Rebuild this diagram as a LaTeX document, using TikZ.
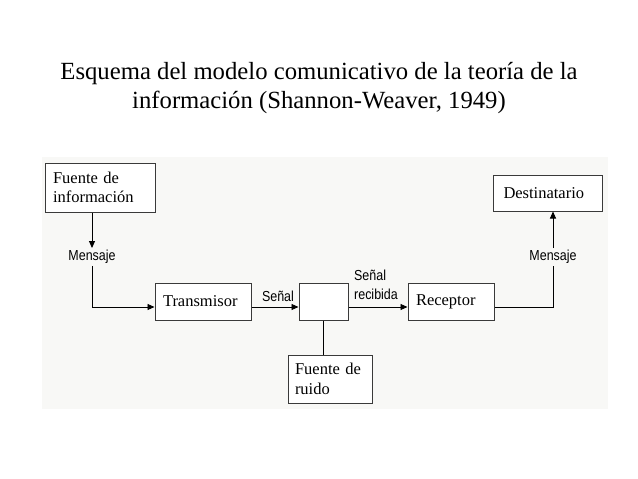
\documentclass[tikz,border=0pt]{standalone}
\usepackage{fontspec}
\setmainfont{Liberation Serif}
\newfontfamily\etiqfont[FakeStretch=0.86]{Liberation Sans}
\usepackage{xcolor}
\usepackage{tikz}
\usetikzlibrary{arrows.meta,positioning,calc}
\definecolor{panel}{HTML}{F8F8F6}
\definecolor{borde}{HTML}{3A3A3A}

\tikzset{
    caja/.style={draw=borde, line width=1pt, fill=white, inner sep=0pt, align=left, font=\fontsize{16.5}{19.5}\selectfont},
    etiq/.style={inner sep=2pt, align=left, font=\etiqfont\fontsize{14.5}{19}\selectfont},
    flecha/.style={draw=black, line width=0.9pt, -{Triangle[length=7pt,width=6pt]}},
    linea/.style={draw=black, line width=0.9pt}
}

\begin{document}
\begin{tikzpicture}[x=1pt,y=-1pt]
\useasboundingbox (0,0) rectangle (638,479);
\fill[panel] (42,157) rectangle (608,409);

% titulo
\node[align=center, font=\fontsize{24.7}{29}\selectfont] (titulo) at (319,88)
    {Esquema del modelo comunicativo de la teoría de la\\información (Shannon-Weaver, 1949)};

% cajas
\node[caja, minimum width=110pt, minimum height=49pt, text width=94pt] (fuente) at (100,187.5) {Fuente de\\información};
\node[caja, minimum width=96pt, minimum height=37pt, text width=80pt] (transmisor) at (203,301.5) {Transmisor};
\node[caja, minimum width=49pt, minimum height=37pt] (canal) at (323.5,301.5) {};
\node[caja, minimum width=86pt, minimum height=37pt, text width=70pt] (receptor) at (451,301.5) {Receptor};
\node[caja, minimum width=109pt, minimum height=36pt, text width=88pt] (destino) at (547.5,193) {Destinatario};
\node[caja, minimum width=84pt, minimum height=48pt, text width=70pt] (ruido) at (330,379) {Fuente de\\ruido};

% etiquetas
\node[etiq] (msjA) at (92,257) {Mensaje};
\node[etiq] (msjB) at (553,257) {Mensaje};
\node[etiq] (senal) at (278,296) {Señal};
\node[etiq] (recibida) at (376,284.5) {Señal\\recibida};

\coordinate (nivel) at (0,307);

% conexiones
\draw[flecha] (fuente.south -| msjA) -- (msjA.north);
\draw[flecha] (msjA.south) |- (transmisor.west |- nivel);
\draw[flecha] (transmisor.east |- nivel) -- (canal.west |- nivel);
\draw[flecha] (canal.east |- nivel) -- (receptor.west |- nivel);
\draw[linea] (receptor.east |- nivel) -| (msjB.south);
\draw[flecha] (msjB.north) -- (destino.south -| msjB);
\draw[linea] (canal.south) -- (ruido.north -| canal);
\end{tikzpicture}
\end{document}
